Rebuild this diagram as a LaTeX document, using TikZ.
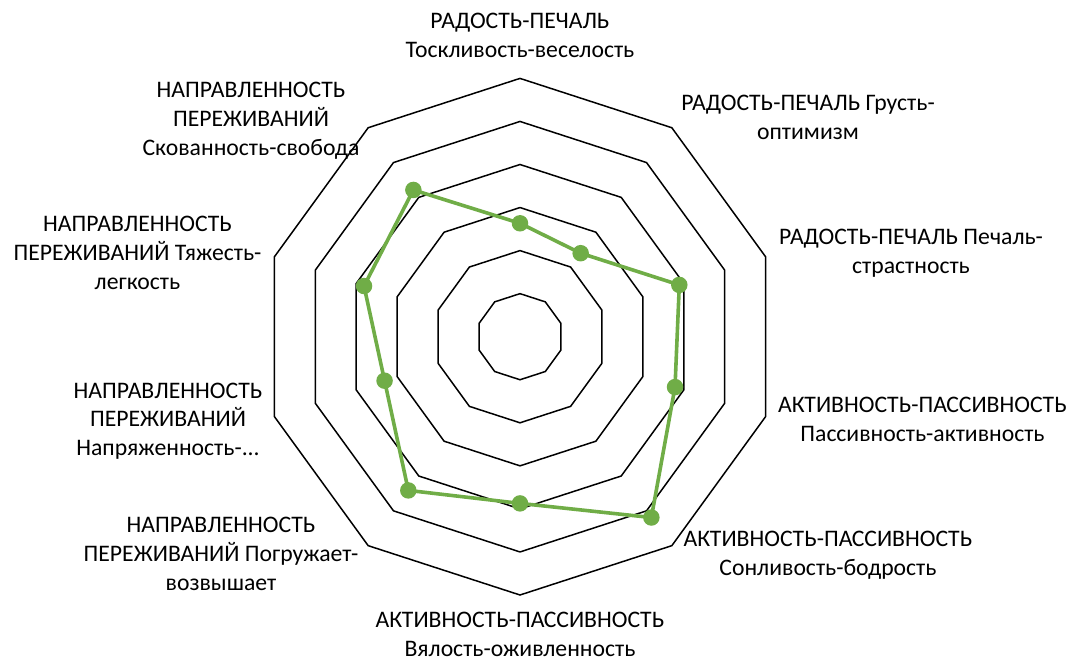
\documentclass[tikz,border=0pt]{standalone}
\usepackage{fontspec}
\setmainfont{Carlito}
\definecolor{seriesgreen}{HTML}{70AD47}
\begin{document}
\begin{tikzpicture}[x=1pt,y=-1pt,
  grid/.style={draw=black,line width=1.5pt},
  series/.style={draw=seriesgreen,line width=3.6pt,line join=round},
  dot/.style={circle,fill=seriesgreen,draw=none,minimum size=16.5pt,inner sep=0pt},
  lbl/.style={align=center,inner sep=0pt,text=black,
    font=\fontsize{23.7}{29}\selectfont}]
\useasboundingbox (0,0) rectangle (1072,660);

% concentric decagon grid
\begin{scope}[shift={(520,336.7)}]
  \foreach \j in {1,...,6}{
    \draw[grid] (-90:43.05*\j)
      \foreach \k in {1,...,9}{ -- (36*\k-90:43.05*\j)} -- cycle;
  }
  % data values (radius along each axis)
  \foreach \r [count=\i from 0] in {113.4,103.2,167.5,163,223.5,166.7,190,142.4,164,181.4}{
    \coordinate (c\i) at (36*\i-90:\r);
  }
  \draw[series] (c0) -- (c1) -- (c2) -- (c3) -- (c4) -- (c5) -- (c6) -- (c7) -- (c8) -- (c9) -- cycle;
  \foreach \i in {0,...,9}{
    \node[dot] (p\i) at (c\i) {};
  }
\end{scope}

% axis labels (anchored on the baseline of their last line)
\node[lbl,anchor=base] (t0) at (520,57.7) {РАДОСТЬ-ПЕЧАЛЬ\\Тоскливость-веселость};
\node[lbl,anchor=base] (t1) at (808,140) {РАДОСТЬ-ПЕЧАЛЬ Грусть-\\оптимизм};
\node[lbl,anchor=base] (t2) at (911,273.3) {РАДОСТЬ-ПЕЧАЛЬ Печаль-\\страстность};
\node[lbl,anchor=base] (t3) at (922.5,441.7) {АКТИВНОСТЬ-ПАССИВНОСТЬ\\Пассивность-активность};
\node[lbl,anchor=base] (t4) at (828,575) {АКТИВНОСТЬ-ПАССИВНОСТЬ\\Сонливость-бодрость};
\node[lbl,anchor=base] (t5) at (520,656) {АКТИВНОСТЬ-ПАССИВНОСТЬ\\Вялость-оживленность};
\node[lbl,anchor=base] (t6) at (221,590) {НАПРАВЛЕННОСТЬ\\ПЕРЕЖИВАНИЙ Погружает-\\возвышает};
\node[lbl,anchor=base] (t7) at (168,456) {НАПРАВЛЕННОСТЬ\\ПЕРЕЖИВАНИЙ\\Напряженность-...};
\node[lbl,anchor=base] (t8) at (137.5,290) {НАПРАВЛЕННОСТЬ\\ПЕРЕЖИВАНИЙ Тяжесть-\\легкость};
\node[lbl,anchor=base] (t9) at (251,156) {НАПРАВЛЕННОСТЬ\\ПЕРЕЖИВАНИЙ\\Скованность-свобода};
\end{tikzpicture}
\end{document}
